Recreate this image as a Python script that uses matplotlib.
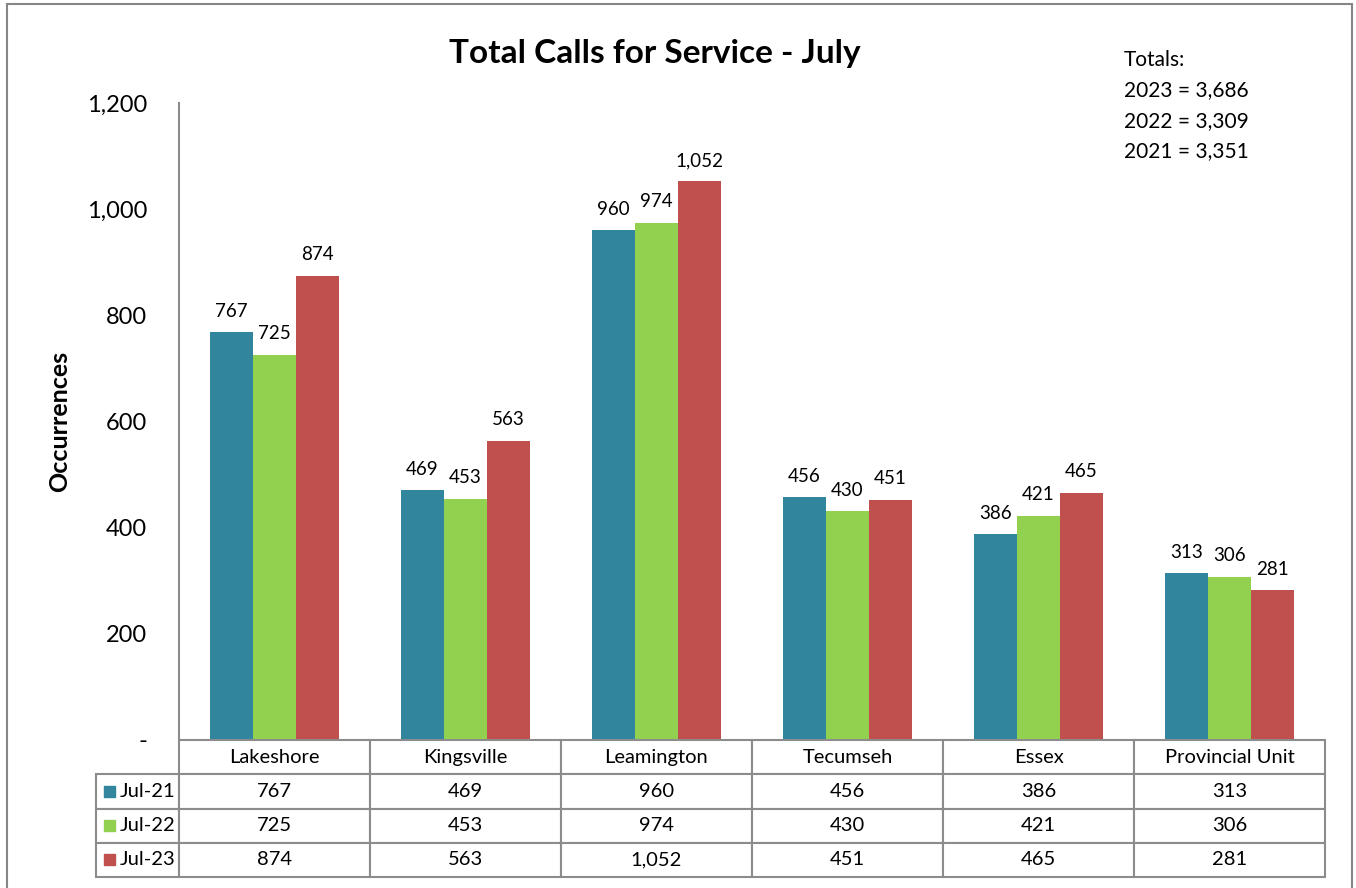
import numpy as np
import matplotlib
matplotlib.use('Agg')
import matplotlib.pyplot as plt
from matplotlib.patches import Rectangle
from matplotlib.ticker import FuncFormatter

plt.rcParams['font.family'] = ['Lato', 'DejaVu Sans']

# Data
categories = ['Lakeshore', 'Kingsville', 'Leamington', 'Tecumseh', 'Essex', 'Provincial Unit']
series_names = ['Jul-21', 'Jul-22', 'Jul-23']
jul21 = [767, 469, 960, 456, 386, 313]
jul22 = [725, 453, 974, 430, 421, 306]
jul23 = [874, 563, 1052, 451, 465, 281]
totals_lines = ['Totals:', '2023 = 3,686', '2022 = 3,309', '2021 = 3,351']
colors = ['#31859C', '#92D050', '#C0504D']
grey = '#8c8c8c'

W, H = 1356, 888
fig = plt.figure(figsize=(W / 100, H / 100), dpi=100)

# axes placed in pixel terms
ax_l, ax_r, ax_t, ax_b = 179, 1325, 103, 739
ax_w, ax_h = ax_r - ax_l, ax_b - ax_t
ax = fig.add_axes([ax_l / W, (H - ax_b) / H, ax_w / W, ax_h / H])

x = np.arange(len(categories))
bw = 0.225
for i, vals in enumerate([jul21, jul22, jul23]):
    bars = ax.bar(x + (i - 1) * bw, vals, bw, color=colors[i], edgecolor='none')
    for b, v in zip(bars, vals):
        ax.annotate(f'{v:,}', (b.get_x() + b.get_width() / 2, v), xytext=(0, 9),
                    textcoords='offset points', ha='center', va='bottom', fontsize=13.5)

ax.set_xlim(-0.5, len(categories) - 0.5)
ax.set_ylim(0, 1200)
ax.set_yticks(range(0, 1201, 200))
ax.yaxis.set_major_formatter(FuncFormatter(lambda v, p: '-' if v == 0 else f'{int(v):,}'))
ax.tick_params(axis='y', length=0, pad=23, labelsize=17)
ax.set_xticks([])
for s in ['top', 'right', 'bottom']:
    ax.spines[s].set_visible(False)
ax.spines['left'].set_color(grey)
ax.spines['left'].set_linewidth(1.5)

ax.set_ylabel('Occurrences', fontweight='bold', fontsize=18)
ax.yaxis.set_label_coords((71 - ax_l) / ax_w, (ax_b - 421) / ax_h)

# data table below the axes
cell_text = [[name] + [f'{v:,}' for v in vals]
             for name, vals in zip(series_names, [jul21, jul22, jul23])]
tab_l, tab_t, tab_b = 96, 740, 877
bbox = [(tab_l - ax_l) / ax_w, (ax_b - tab_b) / ax_h,
        (ax_r - tab_l) / ax_w, (tab_b - tab_t) / ax_h]
tab = ax.table(cellText=cell_text, colLabels=[''] + categories,
               colWidths=[83] + [191] * 6, cellLoc='center', bbox=bbox)
tab.auto_set_font_size(False)
tab.set_fontsize(14.5)
for (r, c), cell in tab.get_celld().items():
    cell.set_edgecolor(grey)
    cell.set_linewidth(1.5)
    if r == 0 and c == 0:
        cell.visible_edges = ''
    elif c == 0:
        cell.PAD = 24 / 83
        cell.set_text_props(ha='left')

# legend squares in the row label cells
row_h = (tab_b - tab_t) / 4
for i in range(3):
    yc = tab_t + row_h * (i + 1.5)
    ax.add_patch(Rectangle(((104 - ax_l) / ax_w, (ax_b - yc - 5.5) / ax_h),
                           11 / ax_w, 11 / ax_h, transform=ax.transAxes,
                           color=colors[i], clip_on=False))

# title and totals note
fig.text(655 / W, 1 - 53 / H, 'Total Calls for Service - July',
         ha='center', va='center', fontsize=24, fontweight='bold')
for i, line in enumerate(totals_lines):
    fig.text(1124 / W, 1 - (60 + 30.5 * i) / H, line, ha='left', va='center', fontsize=15)

# outer chart border
fig.add_artist(Rectangle((7 / W, -0.01), (1352 - 7) / W, (H - 4) / H + 0.01,
                         transform=fig.transFigure, fill=False,
                         edgecolor='#868686', linewidth=1.5))

fig.savefig('out.png', dpi=100)
